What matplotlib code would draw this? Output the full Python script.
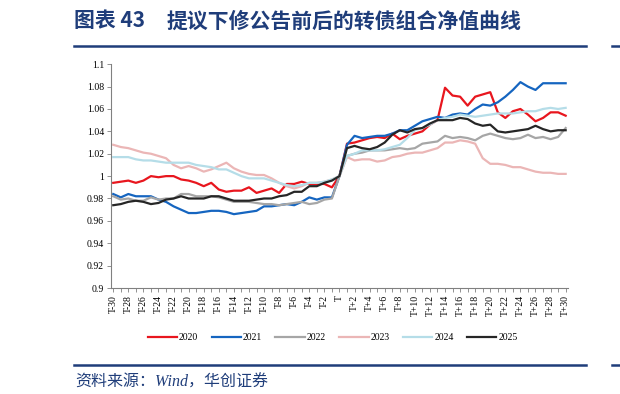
import matplotlib
matplotlib.use("Agg")
import matplotlib.pyplot as plt
import numpy as np

# day labels T-30 .. T+30
days = [f"T-{k}" for k in range(30, 0, -1)] + ["T"] + [f"T+{k}" for k in range(1, 31)]

s2020 = [0.994, 0.995, 0.996, 0.994, 0.996, 1.000, 0.999, 1.000, 1.000, 0.997, 0.996, 0.994,
         0.991, 0.994, 0.988, 0.986, 0.987, 0.987, 0.990, 0.985, 0.987, 0.989, 0.985, 0.993,
         0.993, 0.995, 0.993, 0.993, 0.993, 0.990, 1.000,
         1.029, 1.030, 1.032, 1.034, 1.035, 1.034, 1.038, 1.033, 1.036, 1.038, 1.040, 1.046,
         1.050, 1.079, 1.072, 1.071, 1.063, 1.071, 1.073, 1.075, 1.057, 1.052, 1.058, 1.060,
         1.055, 1.049, 1.052, 1.057, 1.057, 1.054]
s2021 = [0.984, 0.981, 0.984, 0.982, 0.982, 0.982, 0.979, 0.977, 0.973, 0.970, 0.967, 0.967,
         0.968, 0.969, 0.969, 0.968, 0.966, 0.967, 0.968, 0.969, 0.973, 0.973, 0.974, 0.975,
         0.974, 0.977, 0.981, 0.979, 0.981, 0.981, 1.000,
         1.028, 1.036, 1.034, 1.035, 1.036, 1.036, 1.038, 1.041, 1.041, 1.045, 1.049, 1.051,
         1.053, 1.052, 1.055, 1.056, 1.055, 1.060, 1.064, 1.063, 1.066, 1.071, 1.077, 1.084,
         1.080, 1.077, 1.083, 1.083, 1.083, 1.083]
s2022 = [0.982, 0.979, 0.980, 0.978, 0.978, 0.981, 0.979, 0.980, 0.980, 0.984, 0.984, 0.982,
         0.982, 0.982, 0.981, 0.979, 0.977, 0.977, 0.977, 0.976, 0.975, 0.975, 0.974, 0.975,
         0.976, 0.977, 0.975, 0.976, 0.979, 0.980, 1.000,
         1.018, 1.020, 1.021, 1.023, 1.023, 1.023, 1.024, 1.025, 1.024, 1.025, 1.029, 1.030,
         1.031, 1.036, 1.034, 1.035, 1.034, 1.032, 1.036, 1.038, 1.036, 1.034, 1.033, 1.034,
         1.037, 1.034, 1.035, 1.033, 1.035, 1.043]
s2023 = [1.028, 1.026, 1.025, 1.023, 1.021, 1.020, 1.018, 1.016, 1.010, 1.007, 1.009, 1.007,
         1.004, 1.006, 1.009, 1.012, 1.007, 1.004, 1.002, 1.001, 1.001, 0.998, 0.994, 0.991,
         0.989, 0.991, 0.994, 0.994, 0.995, 0.997, 1.000,
         1.017, 1.014, 1.015, 1.015, 1.013, 1.014, 1.017, 1.018, 1.020, 1.021, 1.021, 1.023,
         1.025, 1.030, 1.030, 1.032, 1.031, 1.029, 1.016, 1.011, 1.011, 1.010, 1.008, 1.008,
         1.006, 1.004, 1.003, 1.003, 1.002, 1.002]
s2024 = [1.017, 1.017, 1.017, 1.015, 1.014, 1.014, 1.013, 1.012, 1.012, 1.012, 1.012, 1.010,
         1.009, 1.008, 1.006, 1.006, 1.003, 1.000, 0.998, 0.998, 0.998, 0.996, 0.994, 0.992,
         0.991, 0.992, 0.994, 0.994, 0.995, 0.997, 1.000,
         1.018, 1.020, 1.023, 1.023, 1.023, 1.024, 1.026, 1.028, 1.034, 1.041, 1.043, 1.046,
         1.050, 1.052, 1.053, 1.055, 1.054, 1.053, 1.054, 1.055, 1.056, 1.056, 1.056, 1.057,
         1.058, 1.058, 1.060, 1.061, 1.060, 1.061]
s2025 = [0.974, 0.975, 0.977, 0.978, 0.977, 0.975, 0.976, 0.979, 0.980, 0.982, 0.980, 0.980,
         0.980, 0.982, 0.982, 0.980, 0.978, 0.978, 0.978, 0.979, 0.980, 0.980, 0.982, 0.983,
         0.986, 0.986, 0.991, 0.991, 0.994, 0.996, 1.000,
         1.025, 1.027, 1.025, 1.024, 1.026, 1.030, 1.037, 1.041, 1.039, 1.042, 1.043, 1.047,
         1.050, 1.050, 1.050, 1.052, 1.051, 1.047, 1.045, 1.046, 1.040, 1.039, 1.040, 1.041,
         1.042, 1.045, 1.042, 1.040, 1.041, 1.041]

years = ["2020", "2021", "2022", "2023", "2024", "2025"]
colors = ["#E8161E", "#1565C0", "#A6A6A6", "#EBB6B6", "#B5DDE8", "#262626"]

navy = "#1F3D7A"
serif = ["Liberation Serif", "Noto Sans CJK SC"]

fig = plt.figure(figsize=(6.2, 3.94), dpi=100)
ax = fig.add_axes([0.179, 0.269, 0.737, 0.568])

x = np.arange(len(days))
for yr, s, c in zip(years, [s2020, s2021, s2022, s2023, s2024, s2025], colors):
    ax.plot(x, s, color=c, lw=1.6, label=yr)

ax.set_xlim(-0.3, len(days) - 0.7)
ax.set_ylim(0.9, 1.1)
yt = np.arange(0.9, 1.1001, 0.02)
ax.set_yticks(yt)
ax.set_yticklabels([f"{v:.2f}".rstrip("0").rstrip(".") for v in yt], fontfamily=serif, fontsize=7)
ax.set_xticks(x)
ax.set_xticklabels([d if i % 2 == 0 else "" for i, d in enumerate(days)],
                   rotation=90, fontfamily=serif, fontsize=7)
ax.tick_params(axis="both", length=3, width=0.6, color="#808080", pad=2)
for side in ["top", "right"]:
    ax.spines[side].set_visible(False)
for side in ["left", "bottom"]:
    ax.spines[side].set_color("#808080")
    ax.spines[side].set_linewidth(0.8)

ax.legend(loc="center", bbox_to_anchor=(0.485, -0.223), ncol=6, frameon=False,
          prop={"family": serif, "size": 7}, handlelength=3.0, columnspacing=1.4,
          handletextpad=0.2)

# title, frame lines and source
fig.text(0.119, 0.947, "图表 43", color=navy, fontsize=15, fontweight="bold",
         fontfamily=["Noto Sans CJK SC"], va="center")
fig.text(0.269, 0.947, "提议下修公告前后的转债组合净值曲线", color=navy, fontsize=15,
         fontweight="bold", fontfamily=["Noto Sans CJK SC"], va="center")
fig.add_artist(plt.Line2D([0.119, 0.945], [0.883, 0.883], color=navy, lw=1.8))
fig.add_artist(plt.Line2D([0.119, 0.945], [0.074, 0.074], color=navy, lw=1.8))
fig.add_artist(plt.Line2D([0.987, 1.0], [0.883, 0.883], color=navy, lw=1.8))
fig.add_artist(plt.Line2D([0.987, 1.0], [0.074, 0.074], color=navy, lw=1.8))
fig.text(0.121, 0.030, "资料来源：Wind，华创证券", color=navy, fontsize=11.5,
         fontstyle="italic", fontfamily=serif, va="center")

fig.savefig("out.png", dpi=100)
